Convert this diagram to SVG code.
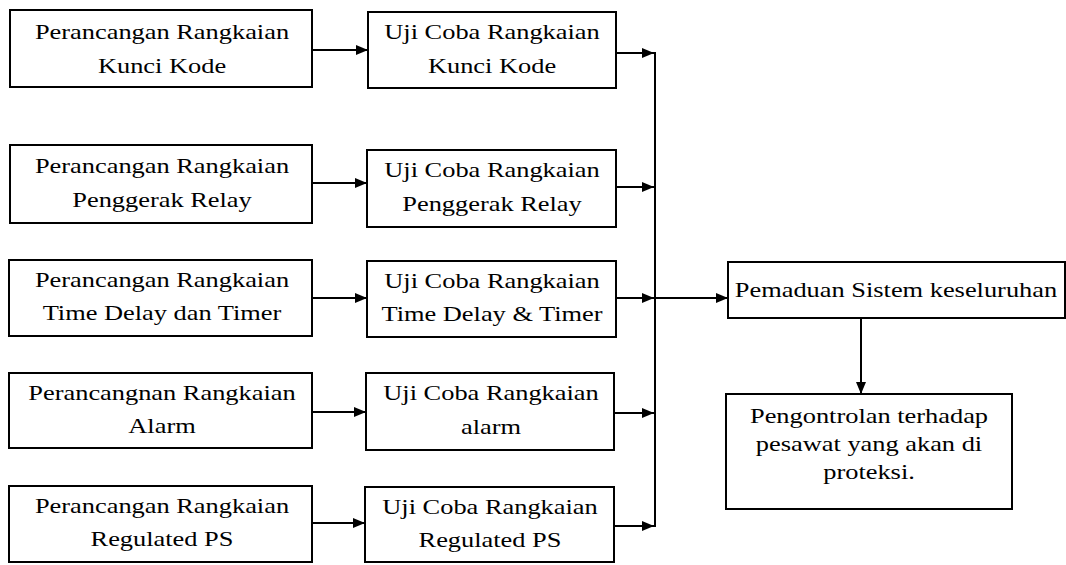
<svg xmlns="http://www.w3.org/2000/svg" width="1066" height="565" viewBox="0 0 1066 565">
<defs>
<marker id="ah" markerUnits="userSpaceOnUse" markerWidth="13" markerHeight="11" refX="12" refY="5" orient="auto">
<path d="M0,0 L12,5 L0,10 z" fill="#000"/>
</marker>
<style>
rect{fill:#fff;stroke:#000;stroke-width:2}
text{font-family:"Liberation Serif","Times New Roman",serif;font-size:22px;fill:#000;text-anchor:middle}
.c{stroke:#000;stroke-width:2;fill:none}
.a{marker-end:url(#ah)}
</style>
</defs>
<rect x="0" y="0" width="1066" height="565" style="fill:#fff;stroke:none"/>
<g id="n1"><rect x="10" y="10" width="302" height="77"/><text transform="translate(162,0) scale(1.2,1)"><tspan x="0" y="39">Perancangan Rangkaian</tspan><tspan x="0" y="73">Kunci Kode</tspan></text></g>
<g id="n2"><rect x="10" y="145" width="302" height="78"/><text transform="translate(162,0) scale(1.2,1)"><tspan x="0" y="173">Perancangan Rangkaian</tspan><tspan x="0" y="207">Penggerak Relay</tspan></text></g>
<g id="n3"><rect x="9" y="260" width="303" height="76"/><text transform="translate(162,0) scale(1.2,1)"><tspan x="0" y="287">Perancangan Rangkaian</tspan><tspan x="0" y="320">Time Delay dan Timer</tspan></text></g>
<g id="n4"><rect x="9" y="373" width="303" height="75"/><text transform="translate(162,0) scale(1.2,1)"><tspan x="0" y="400">Perancangnan Rangkaian</tspan><tspan x="0" y="433">Alarm</tspan></text></g>
<g id="n5"><rect x="9" y="486" width="303" height="76"/><text transform="translate(162,0) scale(1.2,1)"><tspan x="0" y="513">Perancangan Rangkaian</tspan><tspan x="0" y="546">Regulated PS</tspan></text></g>
<g id="m1"><rect x="368" y="12" width="248" height="76"/><text transform="translate(492,0) scale(1.2,1)"><tspan x="0" y="39">Uji Coba Rangkaian</tspan><tspan x="0" y="73">Kunci Kode</tspan></text></g>
<g id="m2"><rect x="367" y="150" width="249" height="77"/><text transform="translate(492,0) scale(1.2,1)"><tspan x="0" y="177">Uji Coba Rangkaian</tspan><tspan x="0" y="211">Penggerak Relay</tspan></text></g>
<g id="m3"><rect x="367" y="261" width="249" height="76"/><text transform="translate(492,0) scale(1.2,1)"><tspan x="0" y="288">Uji Coba Rangkaian</tspan><tspan x="0" y="321">Time Delay &amp; Timer</tspan></text></g>
<g id="m4"><rect x="366" y="373" width="248" height="77"/><text transform="translate(491,0) scale(1.2,1)"><tspan x="0" y="400">Uji Coba Rangkaian</tspan><tspan x="0" y="434">alarm</tspan></text></g>
<g id="m5"><rect x="365" y="487" width="249" height="75"/><text transform="translate(490,0) scale(1.2,1)"><tspan x="0" y="514">Uji Coba Rangkaian</tspan><tspan x="0" y="547">Regulated PS</tspan></text></g>
<g id="p1"><rect x="728" y="262" width="337" height="56"/><text transform="translate(896,0) scale(1.2,1)"><tspan x="0" y="297">Pemaduan Sistem keseluruhan</tspan></text></g>
<g id="p2"><rect x="726" y="394" width="286" height="115"/><text transform="translate(869,0) scale(1.2,1)"><tspan x="0" y="423">Pengontrolan terhadap</tspan><tspan x="0" y="451">pesawat yang akan di</tspan><tspan x="0" y="479">proteksi.</tspan></text></g>
<g id="connectors">
<line class="c a" x1="312" y1="50" x2="368" y2="50"/>
<line class="c a" x1="312" y1="183" x2="367" y2="183"/>
<line class="c a" x1="312" y1="298" x2="367" y2="298"/>
<line class="c a" x1="312" y1="412" x2="366" y2="412"/>
<line class="c a" x1="312" y1="523" x2="365" y2="523"/>
<line class="c a" x1="616" y1="53" x2="654" y2="53"/>
<line class="c a" x1="616" y1="187" x2="654" y2="187"/>
<line class="c a" x1="616" y1="298" x2="654" y2="298"/>
<line class="c a" x1="614" y1="413" x2="654" y2="413"/>
<line class="c a" x1="614" y1="526" x2="654" y2="526"/>
<line class="c" x1="655" y1="52" x2="655" y2="527"/>
<line class="c a" x1="655" y1="298" x2="728" y2="298"/>
<line class="c a" x1="861" y1="318" x2="861" y2="394"/>
</g>
</svg>
